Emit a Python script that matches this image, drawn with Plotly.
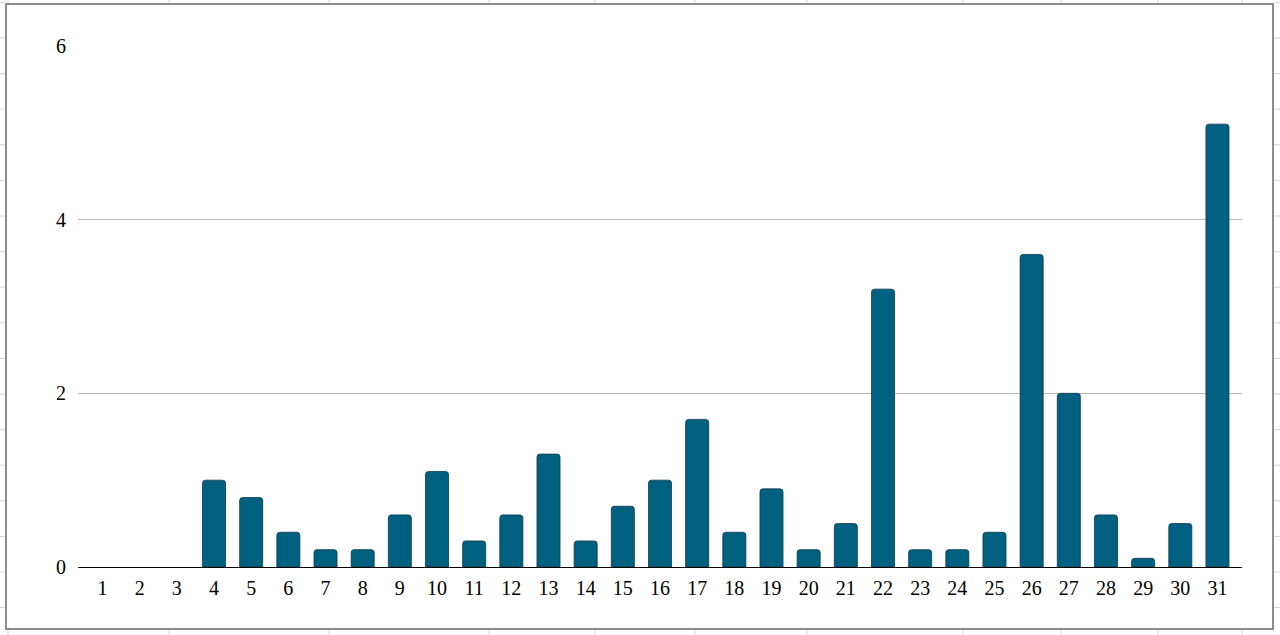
import plotly.graph_objects as go

days = [str(d) for d in range(1, 32)]
values = [0, 0, 0, 1.0, 0.8, 0.4, 0.2, 0.2, 0.6, 1.1,
          0.3, 0.6, 1.3, 0.3, 0.7, 1.0, 1.7, 0.4, 0.9, 0.2,
          0.5, 3.2, 0.2, 0.2, 0.4, 3.6, 2.0, 0.6, 0.1, 0.5, 5.1]
y_ticks = [0, 2, 4, 6]

bar_color = "#006080"

# plot area in pixels (used to place the frame and the sheet lines behind it)
L, R, T, B = 78, 38, 46, 68
W, H = 1280, 635
pw, ph = W - L - R, H - T - B


def px(x):
    return (x - L) / pw


def py(y):
    return (H - B - y) / ph


shapes = []
# faint spreadsheet cell lines peeking out around the chart frame
for xc in [8, 169, 329, 489, 595, 695, 807, 963, 1061, 1158, 1242]:
    for y0, y1 in [(0, 4), (630, 635)]:
        shapes.append(dict(type="line", xref="paper", yref="paper",
                           x0=px(xc), x1=px(xc), y0=py(y0), y1=py(y1),
                           line=dict(color="#d6d6d6", width=1), layer="below"))
yc = 2.4
while yc < H:
    for x0, x1 in [(0, 5), (1274, 1280)]:
        shapes.append(dict(type="line", xref="paper", yref="paper",
                           x0=px(x0), x1=px(x1), y0=py(yc), y1=py(yc),
                           line=dict(color="#d6d6d6", width=1), layer="below"))
    yc += 35.6
# chart frame
shapes.append(dict(type="rect", xref="paper", yref="paper",
                   x0=px(6), x1=px(1273), y0=py(629), y1=py(4),
                   line=dict(color="#8c8c8c", width=2), layer="below"))

fig = go.Figure()
fig.add_bar(x=days, y=values,
            marker=dict(color=bar_color, cornerradius=3,
                        line=dict(color="#0b3a4c",
                                  width=[0.8 if v > 0 else 0 for v in values])))

fig.update_layout(
    width=W, height=H,
    margin=dict(l=L, r=R, t=T, b=B),
    paper_bgcolor="white", plot_bgcolor="white",
    font=dict(family="Liberation Serif", size=20, color="black"),
    bargap=0.38,
    showlegend=False,
    shapes=shapes,
)
fig.update_xaxes(type="category", range=[-0.66, 30.66],
                 showline=True, linecolor="black", linewidth=1.3,
                 showgrid=False, ticks="", ticklabelstandoff=3)
fig.update_yaxes(range=[0, 6], tickvals=y_ticks, showgrid=True,
                 gridcolor="#b8b8b8", gridwidth=1.3, zeroline=False,
                 ticks="", ticklabelstandoff=11)

fig.write_html("out.html", config={"displayModeBar": False},
               post_script="document.body.style.margin='0';")
